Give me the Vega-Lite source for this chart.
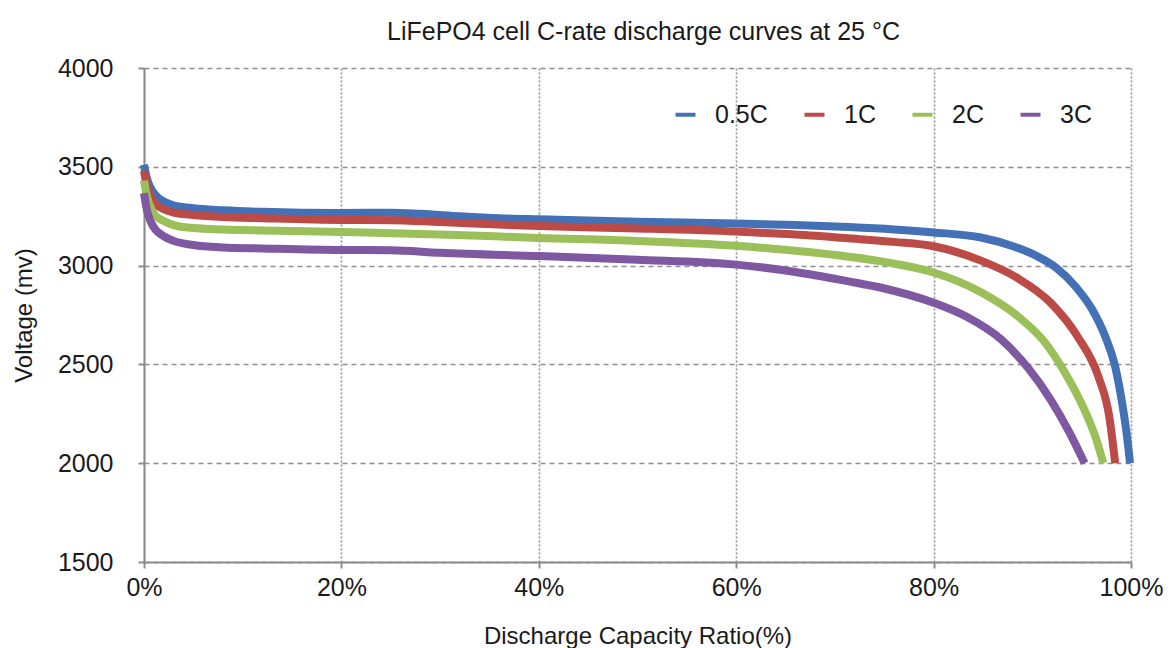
{
  "$schema": "https://vega.github.io/schema/vega-lite/v6.json",
  "autosize": {"type": "none"},
  "width": 987,
  "height": 494,
  "padding": {"left": 144, "top": 68, "right": 41, "bottom": 86},
  "background": "white",
  "title": {
    "text": "LiFePO4 cell C-rate discharge curves at 25 °C",
    "font": "Liberation Sans",
    "fontSize": 25,
    "fontWeight": "normal",
    "color": "#1a1a1a",
    "anchor": "middle",
    "dx": 6,
    "offset": 11
  },
  "data": {
    "values": [
      {"rate": "0.5C", "ratio": 0, "v": 3510},
      {"rate": "0.5C", "ratio": 0.3, "v": 3440},
      {"rate": "0.5C", "ratio": 0.7, "v": 3390},
      {"rate": "0.5C", "ratio": 1.2, "v": 3355},
      {"rate": "0.5C", "ratio": 1.8, "v": 3330},
      {"rate": "0.5C", "ratio": 3, "v": 3305},
      {"rate": "0.5C", "ratio": 5, "v": 3290},
      {"rate": "0.5C", "ratio": 8, "v": 3280},
      {"rate": "0.5C", "ratio": 12, "v": 3272},
      {"rate": "0.5C", "ratio": 20, "v": 3266},
      {"rate": "0.5C", "ratio": 25, "v": 3268},
      {"rate": "0.5C", "ratio": 28, "v": 3262},
      {"rate": "0.5C", "ratio": 32, "v": 3250},
      {"rate": "0.5C", "ratio": 36, "v": 3240},
      {"rate": "0.5C", "ratio": 40, "v": 3234},
      {"rate": "0.5C", "ratio": 50, "v": 3222},
      {"rate": "0.5C", "ratio": 60, "v": 3213},
      {"rate": "0.5C", "ratio": 66, "v": 3205},
      {"rate": "0.5C", "ratio": 71.4, "v": 3195},
      {"rate": "0.5C", "ratio": 76, "v": 3183},
      {"rate": "0.5C", "ratio": 80, "v": 3168},
      {"rate": "0.5C", "ratio": 84.8, "v": 3142},
      {"rate": "0.5C", "ratio": 88.2, "v": 3095},
      {"rate": "0.5C", "ratio": 90.4, "v": 3050},
      {"rate": "0.5C", "ratio": 92.4, "v": 2990},
      {"rate": "0.5C", "ratio": 94.4, "v": 2893},
      {"rate": "0.5C", "ratio": 96.1, "v": 2775},
      {"rate": "0.5C", "ratio": 97.4, "v": 2640},
      {"rate": "0.5C", "ratio": 98.4, "v": 2488},
      {"rate": "0.5C", "ratio": 99.1, "v": 2305},
      {"rate": "0.5C", "ratio": 99.6, "v": 2134},
      {"rate": "0.5C", "ratio": 99.9, "v": 2000},

      {"rate": "1C", "ratio": 0, "v": 3480},
      {"rate": "1C", "ratio": 0.3, "v": 3400},
      {"rate": "1C", "ratio": 0.7, "v": 3350},
      {"rate": "1C", "ratio": 1.2, "v": 3310},
      {"rate": "1C", "ratio": 1.8, "v": 3290},
      {"rate": "1C", "ratio": 3, "v": 3268},
      {"rate": "1C", "ratio": 5, "v": 3256},
      {"rate": "1C", "ratio": 8, "v": 3246},
      {"rate": "1C", "ratio": 12, "v": 3240},
      {"rate": "1C", "ratio": 20, "v": 3231},
      {"rate": "1C", "ratio": 25, "v": 3230},
      {"rate": "1C", "ratio": 30, "v": 3220},
      {"rate": "1C", "ratio": 40, "v": 3200},
      {"rate": "1C", "ratio": 50, "v": 3188},
      {"rate": "1C", "ratio": 60, "v": 3172},
      {"rate": "1C", "ratio": 66, "v": 3157},
      {"rate": "1C", "ratio": 71.4, "v": 3138},
      {"rate": "1C", "ratio": 76, "v": 3120},
      {"rate": "1C", "ratio": 80, "v": 3098},
      {"rate": "1C", "ratio": 84.8, "v": 3025},
      {"rate": "1C", "ratio": 88.4, "v": 2940},
      {"rate": "1C", "ratio": 91.9, "v": 2810},
      {"rate": "1C", "ratio": 94.6, "v": 2640},
      {"rate": "1C", "ratio": 96.7, "v": 2437},
      {"rate": "1C", "ratio": 97.8, "v": 2235},
      {"rate": "1C", "ratio": 98.4, "v": 2000},

      {"rate": "2C", "ratio": 0, "v": 3430},
      {"rate": "2C", "ratio": 0.3, "v": 3350},
      {"rate": "2C", "ratio": 0.7, "v": 3290},
      {"rate": "2C", "ratio": 1.2, "v": 3250},
      {"rate": "2C", "ratio": 1.8, "v": 3231},
      {"rate": "2C", "ratio": 3, "v": 3205},
      {"rate": "2C", "ratio": 5, "v": 3190},
      {"rate": "2C", "ratio": 8, "v": 3183},
      {"rate": "2C", "ratio": 12, "v": 3178},
      {"rate": "2C", "ratio": 20, "v": 3170},
      {"rate": "2C", "ratio": 30, "v": 3158},
      {"rate": "2C", "ratio": 40, "v": 3140},
      {"rate": "2C", "ratio": 50, "v": 3125},
      {"rate": "2C", "ratio": 60, "v": 3100},
      {"rate": "2C", "ratio": 66, "v": 3075},
      {"rate": "2C", "ratio": 71.4, "v": 3045},
      {"rate": "2C", "ratio": 76, "v": 3010},
      {"rate": "2C", "ratio": 80, "v": 2965},
      {"rate": "2C", "ratio": 84.8, "v": 2865},
      {"rate": "2C", "ratio": 88.5, "v": 2745},
      {"rate": "2C", "ratio": 91.3, "v": 2610},
      {"rate": "2C", "ratio": 93.4, "v": 2450},
      {"rate": "2C", "ratio": 95.3, "v": 2268},
      {"rate": "2C", "ratio": 96.5, "v": 2118},
      {"rate": "2C", "ratio": 97.2, "v": 2000},

      {"rate": "3C", "ratio": 0, "v": 3367},
      {"rate": "3C", "ratio": 0.3, "v": 3280},
      {"rate": "3C", "ratio": 0.7, "v": 3220},
      {"rate": "3C", "ratio": 1.2, "v": 3180},
      {"rate": "3C", "ratio": 1.8, "v": 3155},
      {"rate": "3C", "ratio": 3, "v": 3125},
      {"rate": "3C", "ratio": 5, "v": 3104},
      {"rate": "3C", "ratio": 8, "v": 3092},
      {"rate": "3C", "ratio": 12, "v": 3087},
      {"rate": "3C", "ratio": 20, "v": 3079},
      {"rate": "3C", "ratio": 25, "v": 3078},
      {"rate": "3C", "ratio": 30, "v": 3065},
      {"rate": "3C", "ratio": 40, "v": 3048},
      {"rate": "3C", "ratio": 50, "v": 3030},
      {"rate": "3C", "ratio": 60, "v": 3005},
      {"rate": "3C", "ratio": 66, "v": 2968},
      {"rate": "3C", "ratio": 71.4, "v": 2920},
      {"rate": "3C", "ratio": 74.7, "v": 2888},
      {"rate": "3C", "ratio": 80, "v": 2812},
      {"rate": "3C", "ratio": 83.3, "v": 2742},
      {"rate": "3C", "ratio": 86.8, "v": 2628},
      {"rate": "3C", "ratio": 89.6, "v": 2480},
      {"rate": "3C", "ratio": 91.9, "v": 2318},
      {"rate": "3C", "ratio": 93.8, "v": 2152},
      {"rate": "3C", "ratio": 95.3, "v": 2000}
    ]
  },
  "mark": {"type": "line", "strokeWidth": 8, "interpolate": "monotone", "clip": false},
  "encoding": {
    "x": {
      "field": "ratio",
      "type": "quantitative",
      "scale": {"domain": [0, 100], "nice": false, "zero": false},
      "axis": {
        "title": "Discharge Capacity Ratio(%)",
        "values": [0, 20, 40, 60, 80, 100],
        "labelExpr": "datum.value + '%'",
        "labelFlush": false,
        "gridDash": [2, 2],
        "labelPadding": 7,
        "titleY": 81,
        "titleBaseline": "alphabetic"
      }
    },
    "y": {
      "field": "v",
      "type": "quantitative",
      "scale": {"domain": [1500, 4000], "nice": false, "zero": false},
      "axis": {
        "title": "Voltage (mv)",
        "values": [1500, 2000, 2500, 3000, 3500, 4000],
        "format": "d",
        "labelFlush": false,
        "gridDash": [5, 4],
        "labelPadding": 25,
        "titleX": -113,
        "titleBaseline": "alphabetic"
      }
    },
    "color": {
      "field": "rate",
      "type": "nominal",
      "scale": {
        "domain": ["0.5C", "1C", "2C", "3C"],
        "range": ["#4470B6", "#BC4B48", "#9BC05A", "#7E58A0"]
      },
      "legend": {
        "title": null,
        "orient": "none",
        "direction": "horizontal",
        "legendX": 529,
        "legendY": 34,
        "padding": 0,
        "symbolType": "stroke",
        "symbolSize": 400,
        "symbolStrokeWidth": 4,
        "labelOffset": 17,
        "columnPadding": 28,
        "labelFont": "Liberation Sans",
        "labelFontSize": 25,
        "labelColor": "#1a1a1a"
      }
    }
  },
  "config": {
    "view": {"stroke": null},
    "axis": {
      "labelFont": "Liberation Sans",
      "labelFontSize": 25,
      "labelColor": "#1a1a1a",
      "titleFont": "Liberation Sans",
      "titleFontSize": 24,
      "titleFontWeight": "normal",
      "titleColor": "#1a1a1a",
      "domainColor": "#8c8c8c",
      "domainWidth": 2,
      "tickColor": "#8c8c8c",
      "tickWidth": 2,
      "tickSize": 6,
      "gridColor": "#8f8f8f",
      "gridWidth": 1.6,
      "grid": true
    }
  }
}
